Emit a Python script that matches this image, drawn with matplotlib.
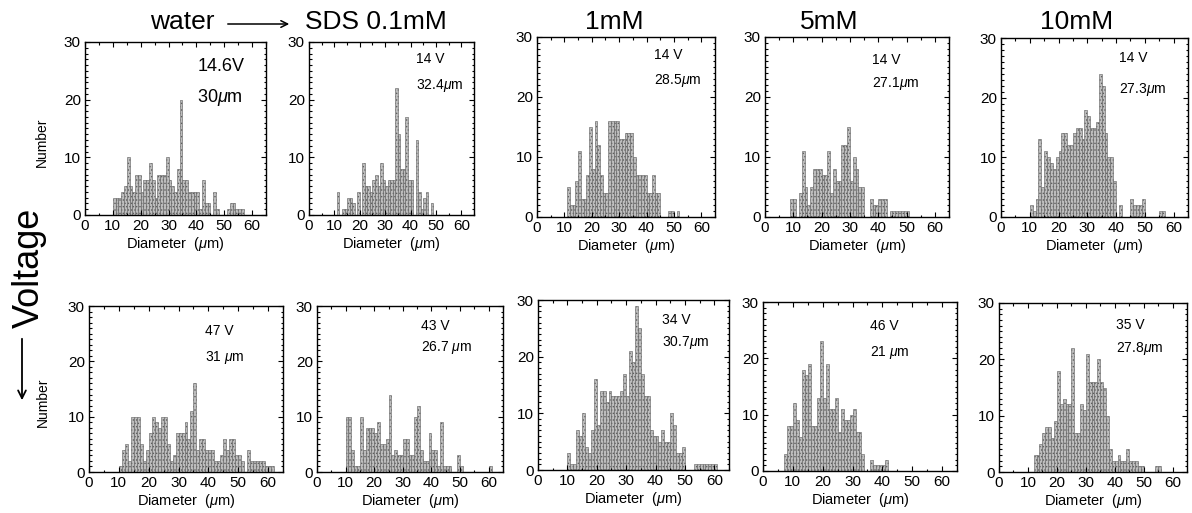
import numpy as np
import matplotlib
matplotlib.use("Agg")
import matplotlib.pyplot as plt
from matplotlib.patches import FancyArrowPatch
from matplotlib.ticker import MultipleLocator

plt.rcParams['font.family'] = ['Liberation Sans', 'DejaVu Sans']
plt.rcParams['mathtext.fontset'] = 'custom'
plt.rcParams['mathtext.rm'] = 'Liberation Sans'
plt.rcParams['mathtext.it'] = 'Liberation Sans:italic'
plt.rcParams['hatch.linewidth'] = 0.6

W, H = 1192, 513

# column headers (SDS concentration)
conc_labels = ['water', 'SDS 0.1mM', '1mM', '5mM', '10mM']

# counts per 1 um diameter bin; *_start = first bin
top_water_start = 10
top_water = [3, 3, 3, 4, 5, 10, 5, 4, 7, 7, 4, 6, 6, 9, 6, 3, 7, 7, 7, 10, 6, 5, 4, 8, 20,
             6, 6, 4, 4, 4, 4, 1, 6, 2, 2, 0, 4, 1, 0, 0, 0, 1, 2, 2, 1, 1, 1]
top_01_start = 11
top_01 = [4, 0, 1, 1, 3, 3, 2, 0, 4, 0, 9, 5, 5, 4, 6, 7, 5, 9, 6, 5, 6, 6, 6, 22, 14, 8,
          8, 17, 6, 6, 0, 13, 4, 1, 3, 4, 0, 2]
top_1_start = 11
top_1 = [5, 2, 2, 6, 11, 3, 3, 7, 15, 8, 16, 12, 7, 4, 4, 16, 16, 16, 16, 13, 13, 14, 14,
         14, 10, 7, 7, 7, 7, 4, 4, 7, 4, 4, 0, 0, 0, 1, 1, 0, 1]
top_5_start = 9
top_5 = [3, 3, 0, 4, 11, 5, 2, 5, 8, 8, 8, 7, 7, 11, 4, 8, 6, 6, 12, 12, 15, 6, 10, 8, 5,
         5, 0, 0, 3, 2, 2, 3, 3, 3, 0, 1, 1, 1, 1, 1, 1, 1]
top_10_start = 10
top_10 = [2, 1, 3, 13, 5, 11, 10, 9, 8, 10, 11, 14, 14, 12, 12, 14, 15, 15, 13, 18, 17, 15,
          15, 16, 24, 22, 14, 10, 10, 6, 0, 2, 0, 0, 0, 3, 2, 2, 2, 3, 0, 0, 0, 0, 0, 1, 1]

bot_water_start = 10
bot_water = [1, 4, 5, 2, 10, 10, 10, 5, 2, 4, 7, 10, 9, 8, 10, 10, 5, 2, 3, 7, 7, 7, 9, 6,
             11, 16, 4, 6, 6, 4, 4, 4, 2, 2, 3, 6, 4, 6, 6, 3, 3, 2, 0, 4, 2, 2, 2, 2, 2, 1, 1, 1]
bot_01_start = 10
bot_01 = [10, 10, 4, 1, 1, 10, 4, 8, 8, 8, 7, 9, 5, 5, 6, 14, 3, 4, 3, 3, 6, 6, 3, 3, 10, 12,
          4, 2, 2, 7, 4, 4, 1, 9, 1, 1, 1, 0, 0, 3, 1, 0, 0, 0, 0, 0, 0, 0, 0, 0, 1]
bot_1_start = 10
bot_1 = [3, 1, 1, 7, 6, 10, 4, 3, 7, 16, 8, 14, 14, 12, 14, 13, 13, 13, 14, 17, 13, 21, 19,
         29, 25, 17, 13, 13, 7, 6, 6, 5, 7, 5, 5, 10, 8, 3, 3, 4, 0, 0, 0, 1, 1, 1, 1, 1, 1, 1, 1]
bot_5_start = 7
bot_5 = [3, 8, 8, 12, 9, 6, 18, 17, 19, 8, 8, 13, 23, 13, 19, 11, 11, 13, 7, 11, 9, 9, 10,
         11, 7, 7, 3, 0, 0, 2, 1, 1, 1, 1, 2]
bot_10_start = 12
bot_10 = [3, 3, 5, 7, 8, 8, 6, 9, 18, 12, 13, 12, 12, 22, 7, 7, 12, 11, 21, 16, 16, 16, 20,
          16, 15, 10, 4, 2, 2, 3, 2, 2, 4, 2, 2, 2, 1, 1, 0, 0, 0, 0, 1, 1]

voltages = ['14.6V', '14 V', '14 V', '14 V', '14 V', '47 V', '43 V', '34 V', '46 V', '35 V']
mean_diam = ['30', '32.4', '28.5', '27.1', '27.3', '31 ', '26.7 ', '30.7', '21 ', '27.8']

series = [(top_water_start, top_water), (top_01_start, top_01), (top_1_start, top_1),
          (top_5_start, top_5), (top_10_start, top_10),
          (bot_water_start, bot_water), (bot_01_start, bot_01), (bot_1_start, bot_1),
          (bot_5_start, bot_5), (bot_10_start, bot_10)]

# axes boxes in pixels: left, right, top, bottom
boxes = [(85, 266, 42, 215), (309, 474, 42, 215), (537, 715, 37, 217),
         (765, 949, 37, 217), (1001, 1188, 38, 217),
         (89, 283, 306, 472), (317, 503, 306, 472), (538, 729, 300, 470),
         (763, 957, 302, 471), (999, 1187, 303, 472)]
# annotation x, y (axes fraction) for volt line and diameter line
ann_pos = [(0.62, 0.86, 0.68), (0.65, 0.90, 0.75), (0.66, 0.90, 0.76), (0.58, 0.87, 0.74),
           (0.63, 0.89, 0.71), (0.60, 0.85, 0.69), (0.56, 0.88, 0.75), (0.65, 0.88, 0.75),
           (0.55, 0.86, 0.70), (0.62, 0.87, 0.73)]

fig = plt.figure(figsize=(W / 100, H / 100), dpi=100)

for i, ((start, counts), (l, r, t, b)) in enumerate(zip(series, boxes)):
    ax = fig.add_axes([l / W, 1 - b / H, (r - l) / W, (b - t) / H])
    x = np.arange(start, start + len(counts))
    ax.bar(x, counts, width=1.0, align='edge', facecolor='#bdbdbd',
           edgecolor='#5e5e5e', linewidth=0.4, hatch='.....')
    ax.set_xlim(0, 65)
    ax.set_ylim(0, 30)
    ax.xaxis.set_major_locator(MultipleLocator(10))
    ax.xaxis.set_minor_locator(MultipleLocator(5))
    ax.yaxis.set_major_locator(MultipleLocator(10))
    ax.yaxis.set_minor_locator(MultipleLocator(1))
    ax.tick_params(which='both', direction='in', top=True, right=True, width=0.8,
                   labelsize=11, pad=3)
    ax.tick_params(which='major', length=3.5)
    ax.tick_params(which='minor', length=1.8)
    for s in ax.spines.values():
        s.set_linewidth(1.0)
    ax.set_xlabel(r'Diameter  ($\mu$m)', fontsize=10.5, labelpad=1)
    if i in (0, 5):
        ax.set_ylabel('Number', fontsize=10)
        ax.yaxis.set_label_coords(-0.2, 0.42)
    ax_x, y1, y2 = ann_pos[i]
    fs = 13 if i == 0 else 10
    ax.text(ax_x, y1, voltages[i], transform=ax.transAxes, fontsize=fs, va='center')
    ax.text(ax_x, y2, mean_diam[i] + r'$\mu$m', transform=ax.transAxes, fontsize=fs,
            va='center')

# column header row
header_font = ['Liberation Sans Narrow', 'Liberation Sans', 'DejaVu Sans']
header_x = [150, 305, 585, 800, 1040]
for name, hx in zip(conc_labels, header_x):
    fig.text(hx / W, 1 - 22 / H, name, fontsize=19, family=header_font, va='center')
fig.add_artist(FancyArrowPatch((225 / W, 1 - 24 / H), (292 / W, 1 - 24 / H),
                               transform=fig.transFigure, arrowstyle='->',
                               mutation_scale=12, lw=1.1, color='black'))

# voltage axis label on the left
fig.text(29 / W, 1 - 268 / H, 'Voltage', rotation=90, fontsize=26, ha='center',
         va='center', family=header_font)
fig.add_artist(FancyArrowPatch((22 / W, 1 - 336 / H), (22 / W, 1 - 403 / H),
                               transform=fig.transFigure, arrowstyle='->',
                               mutation_scale=14, lw=1.3, color='black'))

fig.savefig('out.png', dpi=100)
